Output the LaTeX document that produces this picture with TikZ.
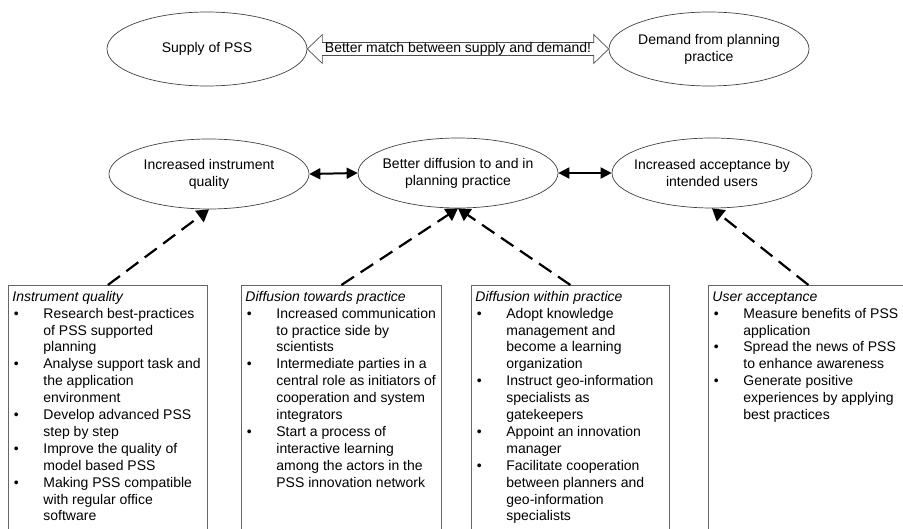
\documentclass[tikz,border=0pt]{standalone}
\usepackage{fontspec}
\setmainfont{Liberation Sans}
\usetikzlibrary{shapes.geometric,arrows.meta,calc}
\newcommand{\bul}{\makebox[31pt][l]{\hspace{1.5pt}\textbullet}}
\newcommand{\ind}{\hspace*{31pt}}
\begin{document}
\begin{tikzpicture}[x=1pt,y=-1pt,
  font={\fontsize{14}{16.9}\selectfont},
  elps/.style={ellipse, draw=black!75, line width=0.7pt, minimum width=200pt, inner sep=0pt},
  etext/.style={align=center, inner sep=0pt},
  boxst/.style={draw=black!60, line width=0.8pt, inner xsep=4pt, inner ysep=4pt, anchor=north west, minimum width=199pt},
  dasharrow/.style={line width=2.2pt, dash pattern=on 15pt off 8pt, -{Triangle[length=12pt,width=14pt]}},
  blackarrow/.style={line width=2pt, {Triangle[length=11pt,width=11pt]}-{Triangle[length=11pt,width=11pt]}}
]
\useasboundingbox (0,0) rectangle (903,529);
\clip (0,0) rectangle (903,529);

% top row
\node[elps, minimum height=74pt, label={[etext]center:Supply of PSS}] (s) at (207,49) {};
\node[elps, minimum height=74pt, label={[etext]center:Demand from planning\\practice}] (d) at (709,49) {};
\draw[draw=black!70, line width=0.7pt]
  (s.east) -- ([shift={(15,-14.5)}]s.east) -- ([shift={(15,-6.5)}]s.east)
  -- ([shift={(-15,-6.5)}]d.west) -- ([shift={(-15,-14.5)}]d.west) -- (d.west)
  -- ([shift={(-15,14.5)}]d.west) -- ([shift={(-15,6.5)}]d.west)
  -- ([shift={(15,6.5)}]s.east) -- ([shift={(15,14.5)}]s.east) -- cycle;
\node[inner sep=0pt] (m) at ($(s.east)!0.5!(d.west)$) {Better match between supply and demand!};

% second row
\node[elps, minimum height=70pt, label={[etext]center:Increased instrument\\quality}] (e1) at (209,174) {};
\node[elps, minimum height=70pt, label={[etext]center:Better diffusion to and in\\planning practice}] (e2) at (458,173) {};
\node[elps, minimum height=70pt, label={[etext]center:Increased acceptance by\\intended users}] (e3) at (712,173) {};
\draw[blackarrow] (e1.east) -- (e2.west);
\draw[blackarrow] (e2.east) -- (e3.west);

% boxes
\node[boxst] (b1) at (8,285) {\parbox[t][255pt][t]{191pt}{\begin{tabular}[t]{@{}l@{}}
\textit{Instrument quality}\\
\bul Research best-practices\\
\ind of PSS supported\\
\ind planning\\
\bul Analyse support task and\\
\ind the application\\
\ind environment\\
\bul Develop advanced PSS\\
\ind step by step\\
\bul Improve the quality of\\
\ind model based PSS\\
\bul Making PSS compatible\\
\ind with regular office\\
\ind software
\end{tabular}}};

\node[boxst, minimum width=200pt] (b2) at (241,285) {\parbox[t][255pt][t]{192pt}{\begin{tabular}[t]{@{}l@{}}
\textit{Diffusion towards practice}\\
\bul Increased communication\\
\ind to practice side by\\
\ind scientists\\
\bul Intermediate parties in a\\
\ind central role as initiators of\\
\ind cooperation and system\\
\ind integrators\\
\bul Start a process of\\
\ind interactive learning\\
\ind among the actors in the\\
\ind PSS innovation network
\end{tabular}}};

\node[boxst, minimum width=198pt] (b3) at (471,285) {\parbox[t][255pt][t]{190pt}{\begin{tabular}[t]{@{}l@{}}
\textit{Diffusion within practice}\\
\bul Adopt knowledge\\
\ind management and\\
\ind become a learning\\
\ind organization\\
\bul Instruct geo-information\\
\ind specialists as\\
\ind gatekeepers\\
\bul Appoint an innovation\\
\ind manager\\
\bul Facilitate cooperation\\
\ind between planners and\\
\ind geo-information\\
\ind specialists
\end{tabular}}};

\node[boxst, minimum width=200pt] (b4) at (708,285) {\parbox[t][255pt][t]{192pt}{\begin{tabular}[t]{@{}l@{}}
\textit{User acceptance}\\
\bul Measure benefits of PSS\\
\ind application\\
\bul Spread the news of PSS\\
\ind to enhance awareness\\
\bul Generate positive\\
\ind experiences by applying\\
\ind best practices
\end{tabular}}};

% dashed connectors
\draw[dasharrow] (b1.north) -- (e1.south);
\draw[dasharrow] (b2.north) -- (e2.south);
\draw[dasharrow] (b3.north) -- (e2.south);
\draw[dasharrow] (b4.north) -- (e3.south);
\end{tikzpicture}
\end{document}
